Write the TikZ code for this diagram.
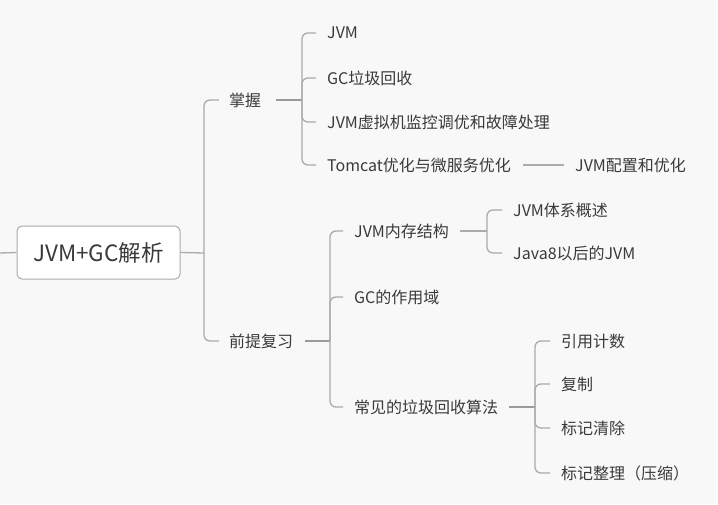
\documentclass[tikz,border=0pt]{standalone}
\usepackage{fontspec}
\setmainfont{Noto Sans CJK SC}
\usetikzlibrary{calc}
\definecolor{bg}{HTML}{F8F8F8}
\definecolor{txt}{HTML}{3A3A3A}
\definecolor{ln}{HTML}{ABABAB}
\definecolor{stubc}{HTML}{9A9A9A}
\begin{document}
\begin{tikzpicture}[x=1pt,y=-1pt,
  lbl/.style={anchor=west,inner sep=0pt,text=txt,font=\fontsize{16}{16}\selectfont},
  br/.style={draw=ln,line width=1.3pt,rounded corners=6pt},
  stubline/.style={draw=stubc,line width=1.7pt}]
\fill[bg] (0,0) rectangle (718,504);
\useasboundingbox (0,0) rectangle (718,504);

% root
\node[draw=ln,fill=white,rounded corners=5pt,line width=1pt,minimum width=163pt,minimum height=53pt,
      inner sep=0pt,text=txt,font=\fontsize{22.5}{23}\selectfont] (root) at (98.5,252.5) {JVM+GC解析};
\coordinate (L) at (0,253);
\draw[br] (L) -- (root.west);

% level 1
\node[lbl] (zw) at (229,100) {掌握};
\node[lbl] (qt) at (229,341) {前提复习};

% level 2 under 掌握
\node[lbl] (a1) at (327,33) {JVM};
\node[lbl] (a2) at (327,78) {GC垃圾回收};
\node[lbl] (a3) at (327,122) {JVM虚拟机监控调优和故障处理};
\node[lbl] (a4) at (327,165) {Tomcat优化与微服务优化};
\node[lbl] (a41) at (575,165) {JVM配置和优化};

% level 2 under 前提复习
\node[lbl] (b1) at (354,231) {JVM内存结构};
\node[lbl] (b2) at (354,297) {GC的作用域};
\node[lbl] (b3) at (354,407) {常见的垃圾回收算法};

\node[lbl] (b11) at (513,210) {JVM体系概述};
\node[lbl] (b12) at (513,253) {Java8以后的JVM};

\node[lbl] (b31) at (561,341) {引用计数};
\node[lbl] (b32) at (561,384) {复制};
\node[lbl] (b33) at (561,428) {标记清除};
\node[lbl] (b34) at (561,473) {标记整理（压缩）};

% junctions
\coordinate (j0) at (204,253);
\coordinate (j1) at (302,100);
\coordinate (j2) at (330,341);
\coordinate (j3) at (487,231);
\coordinate (j4) at (535,407);

% root branches
\draw[br] (root.east) -- (j0);
\draw[br] (j0) |- ($(zw.west)+(-10,0)$);
\draw[br] (j0) |- ($(qt.west)+(-10,0)$);

% 掌握 branches
\draw[stubline] ($(zw.east)+(15,0)$) -- (j1);
\foreach \c in {a1,a2,a3,a4}
  \draw[br] (j1) |- ($(\c.west)+(-11,0)$);
\draw[br] ($(a4.east)+(12,0)$) -- ($(a41.west)+(-11,0)$);

% 前提复习 branches
\draw[stubline] ($(qt.east)+(12,0)$) -- (j2);
\foreach \c in {b1,b2,b3}
  \draw[br] (j2) |- ($(\c.west)+(-11,0)$);

% JVM内存结构 branches
\draw[br] ($(b1.east)+(11,0)$) -- (j3);
\foreach \c in {b11,b12}
  \draw[br] (j3) |- ($(\c.west)+(-11,0)$);

% 常见的垃圾回收算法 branches
\draw[stubline] ($(b3.east)+(11,0)$) -- (j4);
\foreach \c in {b31,b32,b33,b34}
  \draw[br] (j4) |- ($(\c.west)+(-11,0)$);
\end{tikzpicture}
\end{document}
